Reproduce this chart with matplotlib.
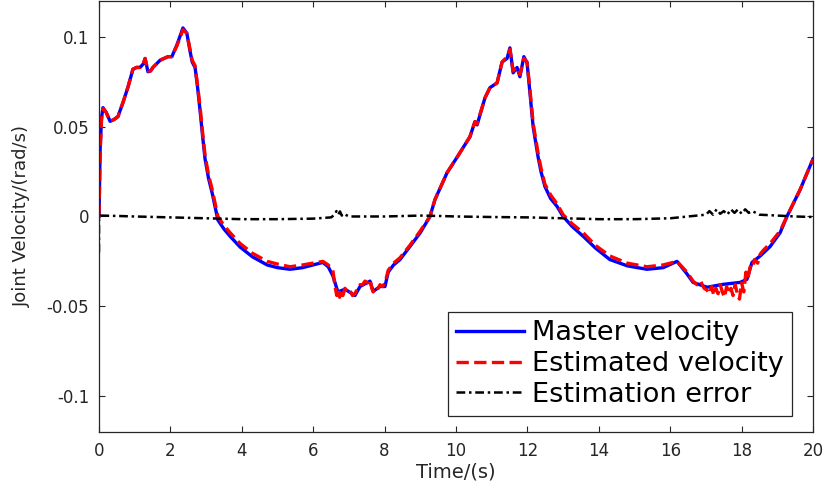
import numpy as np
import matplotlib
matplotlib.use("Agg")
import matplotlib.pyplot as plt

# %%
# values

# master velocity (rad/s) against time (s)
master_t = [0, 0.03, 0.07, 0.11, 0.2, 0.31, 0.42, 0.53, 0.68, 0.81, 0.95, 1.05,
            1.15, 1.24, 1.29, 1.37, 1.44, 1.51, 1.71, 1.93, 2.04, 2.18, 2.28,
            2.35, 2.46, 2.55, 2.61, 2.69, 2.76, 2.83, 2.9, 2.97, 3.07, 3.17,
            3.33, 3.5, 3.67, 3.95, 4.3, 4.71, 5.0, 5.35, 5.7, 5.99, 6.27, 6.42,
            6.55, 6.69, 6.89, 7.17, 7.31, 7.59, 7.68, 7.87, 8.01, 8.10, 8.25,
            8.43, 8.71, 9.0, 9.27, 9.41, 9.75, 10.03, 10.39, 10.53, 10.59, 10.81,
            10.95, 11.15, 11.29, 11.43, 11.51, 11.6, 11.71, 11.79, 11.9, 11.99,
            12.07, 12.16, 12.3, 12.38, 12.49, 12.65, 12.83, 13.0, 13.25, 13.56,
            13.9, 14.31, 14.8, 15.35, 15.8, 16.19, 16.47, 16.64, 17.03, 17.48,
            17.96, 18.15, 18.29, 18.52, 18.8, 19.08, 19.27, 19.64, 20.0]
master_v = [0, 0.037, 0.055, 0.0606, 0.058, 0.053, 0.054, 0.0556, 0.064, 0.072,
            0.082, 0.083, 0.083, 0.085, 0.088, 0.0806, 0.081, 0.083, 0.087,
            0.089, 0.089, 0.0955, 0.101, 0.105, 0.102, 0.092, 0.086, 0.083,
            0.072, 0.059, 0.045, 0.032, 0.021, 0.013, -0.002, -0.007, -0.011,
            -0.017, -0.0225, -0.027, -0.0285, -0.0294, -0.0285, -0.027, -0.0256,
            -0.028, -0.033, -0.042, -0.0405, -0.044, -0.039, -0.036, -0.0417,
            -0.039, -0.039, -0.031, -0.027, -0.024, -0.0167, -0.009, 0.0, 0.0094,
            0.0244, 0.033, 0.0444, 0.0528, 0.051, 0.066, 0.0717, 0.0744, 0.086,
            0.088, 0.0939, 0.080, 0.083, 0.0778, 0.089, 0.0856, 0.069, 0.050,
            0.033, 0.025, 0.0167, 0.010, 0.0056, 0.0, -0.0055, -0.011, -0.0175,
            -0.024, -0.0275, -0.0294, -0.0285, -0.025, -0.032, -0.0367, -0.0394,
            -0.0378, -0.0367, -0.035, -0.0256, -0.022, -0.0167, -0.009, 0.0,
            0.015, 0.032]

# estimated velocity
est_t = [0, 0.03, 0.07, 0.11, 0.2, 0.31, 0.42, 0.53, 0.68, 0.81, 0.95, 1.05,
         1.15, 1.24, 1.29, 1.37, 1.44, 1.51, 1.71, 1.93, 2.04, 2.18, 2.28, 2.35,
         2.46, 2.55, 2.61, 2.69, 2.76, 2.83, 2.9, 2.97, 3.07, 3.17, 3.33, 3.5,
         3.67, 3.95, 4.3, 4.71, 5.0, 5.35, 5.7, 5.99, 6.27, 6.42, 6.55, 6.62,
         6.66, 6.70, 6.74, 6.78, 6.83, 6.89, 6.95, 7.02, 7.10, 7.17, 7.24, 7.31,
         7.38, 7.45, 7.52, 7.59, 7.64, 7.68, 7.75, 7.82, 7.87, 7.94, 8.01, 8.10,
         8.25, 8.43, 8.71, 9.0, 9.27, 9.41, 9.75, 10.03, 10.39, 10.53, 10.59,
         10.81, 10.95, 11.15, 11.29, 11.43, 11.51, 11.6, 11.71, 11.79, 11.9,
         11.99, 12.07, 12.16, 12.3, 12.38, 12.49, 12.65, 12.83, 13.0, 13.25,
         13.56, 13.9, 14.31, 14.8, 15.35, 15.8, 16.19, 16.47, 16.64, 16.75,
         16.85, 16.95, 17.03, 17.10, 17.16, 17.22, 17.28, 17.34, 17.40, 17.46,
         17.52, 17.58, 17.64, 17.70, 17.76, 17.82, 17.88, 17.94, 18.00, 18.06,
         18.12, 18.18, 18.24, 18.30, 18.36, 18.45, 18.52, 18.60, 18.8, 19.08,
         19.27, 19.64, 20.0]
est_v = [0, 0.035, 0.054, 0.060, 0.058, 0.053, 0.054, 0.0556, 0.064, 0.072,
         0.082, 0.083, 0.083, 0.085, 0.088, 0.081, 0.081, 0.083, 0.087, 0.089,
         0.089, 0.095, 0.100, 0.104, 0.102, 0.093, 0.087, 0.084, 0.073, 0.061,
         0.047, 0.034, 0.023, 0.015, 0.0, -0.005, -0.009, -0.015, -0.0205,
         -0.025, -0.0265, -0.028, -0.027, -0.026, -0.025, -0.027, -0.030,
         -0.040, -0.044, -0.040, -0.045, -0.041, -0.044, -0.040, -0.042, -0.041,
         -0.044, -0.043, -0.040, -0.038, -0.038, -0.036, -0.037, -0.035, -0.040,
         -0.042, -0.039, -0.040, -0.038, -0.039, -0.037, -0.030, -0.026, -0.023,
         -0.016, -0.008, 0.0, 0.0094, 0.0244, 0.033, 0.0444, 0.0528, 0.0515,
         0.066, 0.0717, 0.0744, 0.086, 0.089, 0.093, 0.081, 0.083, 0.079, 0.088,
         0.086, 0.071, 0.052, 0.035, 0.027, 0.018, 0.012, 0.007, 0.001, -0.004,
         -0.009, -0.016, -0.022, -0.026, -0.028, -0.027, -0.025, -0.031, -0.036,
         -0.038, -0.036, -0.040, -0.041, -0.043, -0.039, -0.044, -0.040, -0.043,
         -0.038, -0.042, -0.045, -0.039, -0.043, -0.040, -0.044, -0.038, -0.043,
         -0.046, -0.037, -0.042, -0.031, -0.034, -0.028, -0.029, -0.024, -0.026,
         -0.021, -0.019, -0.015, -0.008, 0.0, 0.015, 0.032]

# estimation error
err_t = [0, 0, 0.05, 0.5, 1, 2, 3, 4, 5, 6, 6.5, 6.6, 6.65, 6.7, 6.75, 6.8,
         6.85, 7, 8, 9, 9.5, 10, 11, 12, 13, 14, 15, 16, 16.5, 17, 17.1, 17.2,
         17.3, 17.4, 17.5, 17.6, 17.7, 17.8, 17.9, 18.0, 18.1, 18.2, 18.3, 18.5,
         19, 19.5, 20]
err_v = [-0.020, 0.0, 0.0005, 0.0003, 0.0, -0.0005, -0.001, -0.0015, -0.0015,
         -0.0012, -0.0005, 0.001, 0.003, 0.001, 0.0028, 0.0005, 0.0015, 0.0, 0.0,
         0.0005, 0.0003, 0.0, -0.0003, -0.0005, -0.001, -0.0015, -0.0015, -0.001,
         0.0, 0.001, 0.003, 0.001, 0.004, 0.0015, 0.003, 0.001, 0.004, 0.002,
         0.004, 0.0015, 0.004, 0.002, 0.003, 0.001, 0.0005, 0.0, -0.0003]

labels = ["Master velocity", "Estimated velocity", "Estimation error"]
xticks = np.arange(0, 21, 2)
yticks = [-0.1, -0.05, 0, 0.05, 0.1]
ytick_labels = ["-0.1", "-0.05", "0", "0.05", "0.1"]

# %%
# plot
axis_col = "#262626"
fig = plt.figure(figsize=(8.28, 4.91), dpi=100)
ax = fig.add_axes([0.1196, 0.1202, 0.8623, 0.8778])

ax.plot(master_t, master_v, color="blue", lw=2.4, label=labels[0])
ax.plot(est_t, est_v, color="red", lw=2.4, ls="--", label=labels[1])
ax.plot(err_t, err_v, color="black", lw=1.8, ls=(0, (3.5, 1.5, 1, 1.5)),
        label=labels[2])

ax.set_xlim(0, 20)
ax.set_ylim(-0.12, 0.12)
ax.set_xticks(xticks)
ax.set_yticks(yticks)
ax.set_yticklabels(ytick_labels)
ax.tick_params(direction="in", top=True, right=True, length=4.5, width=0.8,
               colors=axis_col, labelsize=12, pad=7)
for s in ax.spines.values():
    s.set_color(axis_col)
    s.set_linewidth(0.9)

ax.set_xlabel("Time/(s)", fontsize=14, color=axis_col, labelpad=2)
ax.set_ylabel("Joint Velocity/(rad/s)", fontsize=13, color=axis_col,
              labelpad=11)

leg = ax.legend(loc="lower right", bbox_to_anchor=(0.9706, 0.037),
                borderaxespad=0, fontsize=19.5, fancybox=False, framealpha=1,
                edgecolor=axis_col, handlelength=2.5, handletextpad=0.3,
                borderpad=0.3, labelspacing=0.18)
leg.get_frame().set_linewidth(0.9)

fig.savefig("out.png", dpi=100)
